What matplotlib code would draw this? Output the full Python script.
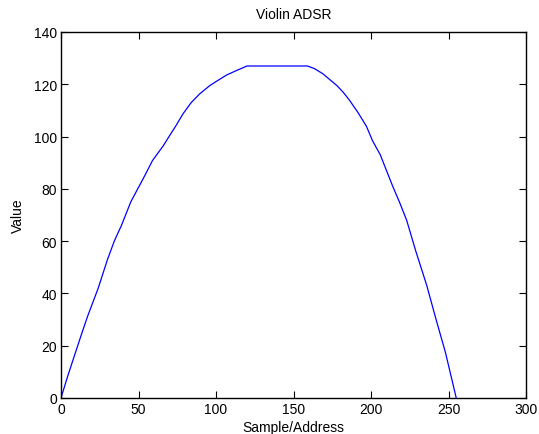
import matplotlib
matplotlib.use("Agg")
import matplotlib.pyplot as plt

# envelope
sample = [0, 4.4, 8, 13, 17, 24, 30, 34.5, 39, 45, 54, 59, 66, 70, 74, 78.6,
          84, 89.4, 96, 101, 107, 113, 120,
          159, 163.5, 169, 173, 178, 182, 186, 191.5, 197, 201, 206, 210, 214,
          218.4, 223, 229, 236, 242, 248, 255]
value = [0, 8.5, 15, 24, 31, 42, 53, 60.2, 66, 75, 85, 90.8, 96.5, 100.3, 104, 108.6,
         113, 116.3, 119.5, 121.4, 123.6, 125.2, 127,
         127, 126, 124, 122, 119.5, 117, 114, 109.3, 104, 98.4, 93, 87, 81,
         74.9, 68, 56, 43, 30, 17.5, 0]

plt.rcParams['font.family'] = ['Liberation Sans', 'DejaVu Sans']
plt.rcParams['font.size'] = 10

fig = plt.figure(figsize=(5.39, 4.35), dpi=100)
ax = fig.add_axes([61 / 539, 36 / 435, 465 / 539, 366 / 435])

ax.plot(sample, value, color='#0000ff', linewidth=0.9)

ax.set_xlim(0, 300)
ax.set_ylim(0, 140)
ax.set_xticks(range(0, 301, 50))
ax.set_yticks(range(0, 141, 20))
ax.tick_params(direction='in', top=True, right=True, length=5, width=0.8, pad=3)
for s in ax.spines.values():
    s.set_linewidth(1.0)

ax.set_title("Violin ADSR", fontsize=10, pad=10)
ax.set_xlabel("Sample/Address", labelpad=3)
ax.set_ylabel("Value", labelpad=6)

fig.savefig("out.png", dpi=100)
